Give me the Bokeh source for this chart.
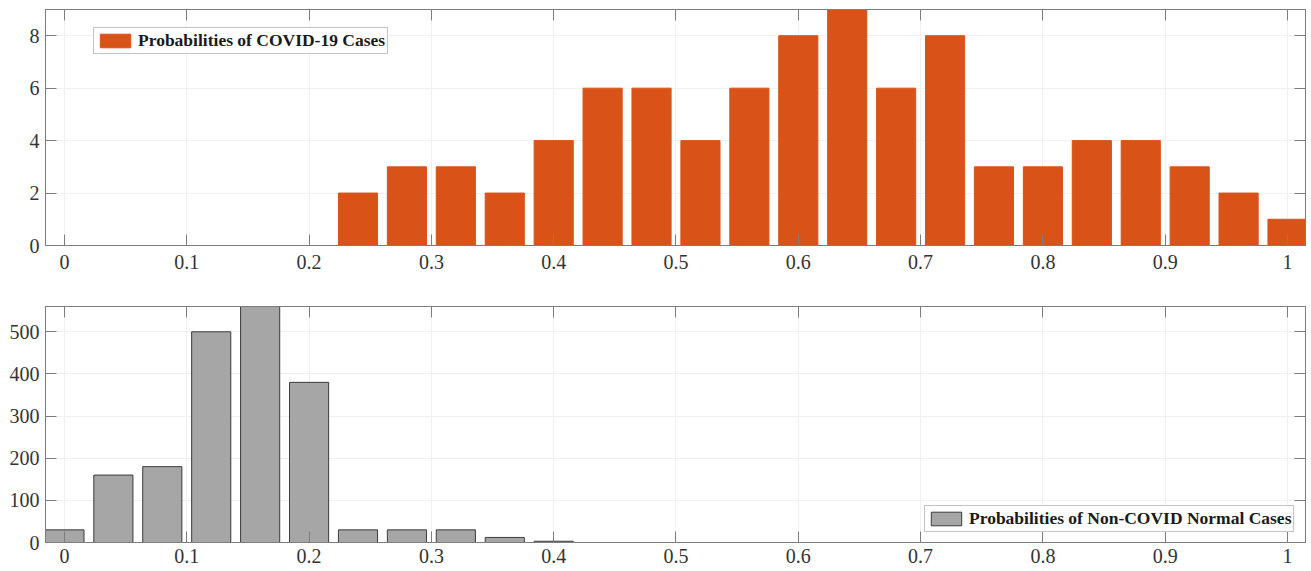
from bokeh.plotting import figure
from bokeh.layouts import column
from bokeh.models import (Range1d, FixedTicker, LinearAxis, Legend, LegendItem,
                          CustomJSTickFormatter, CustomLabelingPolicy)
from bokeh.embed import file_html
from bokeh.resources import INLINE

# ---- data ----
bin_centers = [round(0.04 * i, 2) for i in range(26)]
covid_counts = [0, 0, 0, 0, 0, 0, 2, 3, 3, 2, 4, 6, 6, 4, 6, 8, 9, 6, 8, 3, 3, 4, 4, 3, 2, 1]
normal_counts = [30, 160, 180, 500, 585, 380, 30, 30, 30, 12, 3, 0, 0, 0, 0, 0, 0, 0, 0, 0, 0, 0, 0, 0, 0, 0]
x_ticks = [0, 0.1, 0.2, 0.3, 0.4, 0.5, 0.6, 0.7, 0.8, 0.9, 1]
top_y_ticks = [0, 2, 4, 6, 8]
bottom_y_ticks = [0, 100, 200, 300, 400, 500]
covid_label = "Probabilities of COVID-19 Cases"
normal_label = "Probabilities of Non-COVID Normal Cases"

ORANGE = "#D95319"
GRAY = "#A6A6A6"
EDGE = "#3c3c3c"
AXC = "#7d7d7d"
FONT = "Liberation Serif"

xfmt = CustomJSTickFormatter(code="var s = tick.toFixed(1); return s.replace(/\\.0$/, '');")


def no_labels():
    return CustomLabelingPolicy(code="return new indices.constructor(indices.size, 0);")


def style(p, yticks, x_standoff):
    p.xaxis.ticker = FixedTicker(ticks=x_ticks)
    p.yaxis.ticker = FixedTicker(ticks=yticks)
    p.xaxis.formatter = xfmt
    for ax in p.xaxis + p.yaxis:
        ax.axis_line_color = AXC
        ax.major_tick_line_color = AXC
        ax.major_tick_in = 11
        ax.major_tick_out = 0
        ax.minor_tick_line_color = None
        ax.major_label_text_font = FONT
        ax.major_label_text_font_size = "20px"
        ax.major_label_text_color = "#333333"
    p.xaxis.major_label_standoff = x_standoff
    p.yaxis.major_label_standoff = 6
    # mirrored ticks on top and right (no labels)
    top_ax = LinearAxis(ticker=FixedTicker(ticks=x_ticks), major_label_policy=no_labels(),
                        major_label_standoff=0, major_tick_in=11, major_tick_out=0,
                        major_label_text_font_size="1px",
                        minor_tick_line_color=None, axis_line_color=AXC, major_tick_line_color=AXC)
    right_ax = LinearAxis(ticker=FixedTicker(ticks=yticks), major_label_policy=no_labels(),
                          major_label_standoff=0, major_tick_in=11, major_tick_out=0,
                          major_label_text_font_size="1px",
                          minor_tick_line_color=None, axis_line_color=AXC, major_tick_line_color=AXC)
    p.add_layout(top_ax, "above")
    p.add_layout(right_ax, "right")
    p.xgrid.ticker = FixedTicker(ticks=x_ticks)
    p.ygrid.ticker = FixedTicker(ticks=yticks)
    p.grid.grid_line_color = "#f1f1f1"
    p.outline_line_color = AXC
    p.background_fill_color = "white"
    p.border_fill_color = "white"


def make_legend(p, r, label, loc):
    lg = Legend(items=[LegendItem(label=label, renderers=[r])], location=loc)
    lg.border_line_color = "#8a8a8a"
    lg.border_line_width = 1
    lg.background_fill_color = "white"
    lg.background_fill_alpha = 1
    lg.padding = 2
    lg.margin = 0
    lg.spacing = 0
    lg.glyph_width = 38
    lg.glyph_height = 17
    lg.label_height = 18
    lg.label_standoff = 4
    lg.label_text_font = FONT
    lg.label_text_font_style = "bold"
    lg.label_text_font_size = "17.5px"
    lg.label_text_color = "#1a1a1a"
    lg.label_text_baseline = "middle"
    p.add_layout(lg)


# ---- top ----
p1 = figure(frame_width=1260, frame_height=236, output_backend="svg", toolbar_location=None,
            x_range=Range1d(-0.0155, 1.0147), y_range=Range1d(0, 9),
            min_border_left=45, min_border_right=3, min_border_top=9, min_border_bottom=48)
r1 = p1.vbar(x=bin_centers, top=covid_counts, width=0.032, bottom=0,
             fill_color=ORANGE, line_color=ORANGE, line_width=1)
style(p1, top_y_ticks, 9)
make_legend(p1, r1, covid_label, (48, 191))

# ---- bottom ----
p2 = figure(frame_width=1260, frame_height=236, output_backend="svg", toolbar_location=None,
            x_range=Range1d(-0.0155, 1.0147), y_range=Range1d(0, 560),
            min_border_left=45, min_border_right=3, min_border_top=13, min_border_bottom=22)
r2 = p2.vbar(x=bin_centers, top=normal_counts, width=0.032, bottom=0,
             fill_color=GRAY, line_color=EDGE, line_width=1)
style(p2, bottom_y_ticks, 6)
make_legend(p2, r2, normal_label, (879, 10))

layout = column(p1, p2, spacing=0)
open("out.html", "w").write(file_html(layout, INLINE))
